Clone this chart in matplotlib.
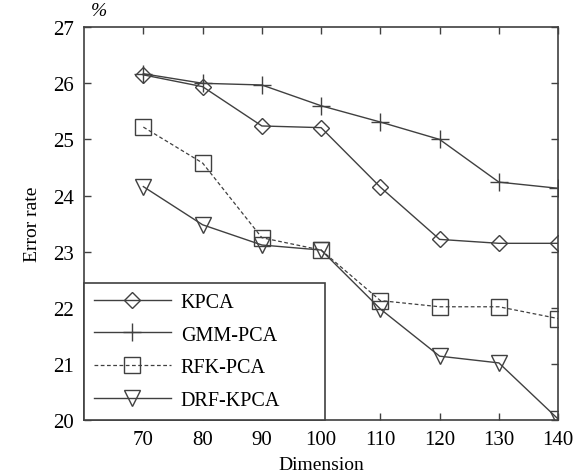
import matplotlib
matplotlib.use("Agg")
import matplotlib.pyplot as plt

plt.rcParams['font.family'] = ['Liberation Serif', 'DejaVu Serif']

dims = [70, 80, 90, 100, 110, 120, 130, 140]
kpca = [26.15, 25.94, 25.24, 25.21, 24.15, 23.22, 23.15, 23.15]
gmm_pca = [26.17, 26.0, 25.97, 25.6, 25.31, 25.0, 24.24, 24.13]
rfk_pca = [25.22, 24.58, 23.25, 23.03, 22.13, 22.02, 22.02, 21.81]
drf_kpca = [24.16, 23.48, 23.12, 23.03, 21.98, 21.14, 21.02, 20.02]

c = '#404040'

fig = plt.figure(figsize=(5.76, 4.77), dpi=100)
ax = fig.add_axes([0.146, 0.117, 0.823, 0.824])

ax.plot(dims, kpca, color=c, lw=1.0, marker='D', ms=8.5, mfc='none', mec=c, mew=1.0, label='KPCA')
ax.plot(dims, gmm_pca, color=c, lw=1.0, marker='+', ms=13, mec=c, mew=1.0, label='GMM-PCA')
ax.plot(dims, rfk_pca, color=c, lw=0.9, ls=(0, (3, 2)), marker='s', ms=11, mfc='none', mec=c, mew=1.0, label='RFK-PCA')
ax.plot(dims, drf_kpca, color=c, lw=1.0, marker='v', ms=12, mfc='none', mec=c, mew=1.0, label='DRF-KPCA')

ax.set_xlim(60, 140)
ax.set_ylim(20, 27)
ax.set_xticks(dims)
ax.set_yticks(range(20, 28))
ax.tick_params(direction='in', top=True, right=True, length=5, width=1.0, color=c,
               labelsize=15, pad=7)
for s in ax.spines.values():
    s.set_color(c)
    s.set_linewidth(1.2)

ax.set_xlabel('Dimension', fontsize=14, labelpad=5)
ax.set_ylabel('Error rate', fontsize=14, labelpad=9)
ax.text(0.015, 1.03, '%', transform=ax.transAxes, fontsize=14, style='italic')

# legend box fixed to the lower-left corner, wider than its content
leg = ax.legend(loc='lower left', bbox_to_anchor=(0, 0, 0.508, 0.344), mode='expand',
                borderaxespad=0, fontsize=14.5, handlelength=3.8, handletextpad=0.5,
                labelspacing=0.68, borderpad=0.5, fancybox=False, framealpha=1,
                edgecolor=c)
leg.get_frame().set_linewidth(1.2)

fig.savefig('out.png', dpi=100)
